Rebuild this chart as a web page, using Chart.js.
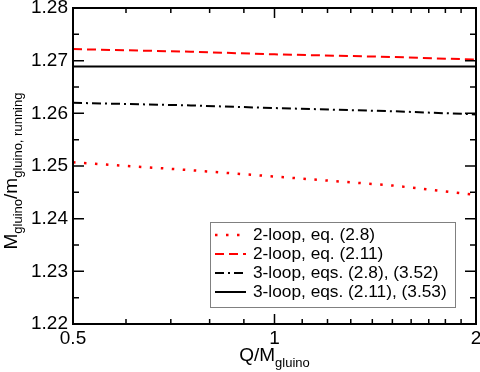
<!DOCTYPE html>
<html>
<head>
<meta charset="utf-8">
<script src="https://cdn.jsdelivr.net/npm/chart.js@4"></script>
<style>
  html, body { margin: 0; padding: 0; background: #fff; }
</style>
</head>
<body>
<canvas id="chart" width="480" height="372"></canvas>
<script>
// values
const qValues = [0.5, 0.75, 1, 1.5, 2];
const twoLoop28 = [1.2507, 1.2492, 1.2480, 1.2463, 1.2445];
const twoLoop211 = [1.2722, 1.2717, 1.2712, 1.2707, 1.2702];
const threeLoop28 = [1.2620, 1.2615, 1.2610, 1.2604, 1.2598];
const threeLoop211 = [1.2689, 1.2689, 1.2689, 1.2689, 1.2689];
const seriesNames = ['2-loop, eq. (2.8)', '2-loop, eq. (2.11)', '3-loop, eqs. (2.8), (3.52)', '3-loop, eqs. (2.11), (3.53)'];

const xMajor = [0.5, 1, 2];
const xMinor = [0.6, 0.7, 0.8, 0.9, 1.1, 1.2, 1.3, 1.4, 1.5, 1.6, 1.7, 1.8, 1.9];
const yMajor = [1.22, 1.23, 1.24, 1.25, 1.26, 1.27, 1.28];
const yMinor = [1.225, 1.235, 1.245, 1.255, 1.265, 1.275];

const FONT = '"Liberation Sans", Arial, sans-serif';

function toPoints(ys) {
    return qValues.map((q, i) => ({ x: q, y: ys[i] }));
}

const datasets = [
    { label: seriesNames[0], data: toPoints(twoLoop28), borderColor: '#ff0000', borderWidth: 2.5, borderDash: [2.5, 8.5] },
    { label: seriesNames[1], data: toPoints(twoLoop211), borderColor: '#ff0000', borderWidth: 2, borderDash: [9, 5] },
    { label: seriesNames[2], data: toPoints(threeLoop28), borderColor: '#000000', borderWidth: 2, borderDash: [9, 4, 2, 4] },
    { label: seriesNames[3], data: toPoints(threeLoop211), borderColor: '#000000', borderWidth: 2, borderDash: [] },
];
datasets.forEach(d => {
    d.pointRadius = 0;
    d.fill = false;
    d.tension = 0;
    d.borderCapStyle = 'butt';
});

// frame, inward ticks, axis titles and legend box
const decorations = {
    id: 'decorations',
    afterDraw(chart) {
        const ctx = chart.ctx;
        const a = chart.chartArea;
        const xs = chart.scales.x;
        const ys = chart.scales.y;
        ctx.save();

        ctx.strokeStyle = '#000';
        ctx.lineWidth = 1.5;
        ctx.beginPath();
        const tick = (v, len, horiz) => {
            if (horiz) {
                const p = xs.getPixelForValue(v);
                ctx.moveTo(p, a.bottom); ctx.lineTo(p, a.bottom - len);
                ctx.moveTo(p, a.top); ctx.lineTo(p, a.top + len);
            } else {
                const p = ys.getPixelForValue(v);
                ctx.moveTo(a.left, p); ctx.lineTo(a.left + len, p);
                ctx.moveTo(a.right, p); ctx.lineTo(a.right - len, p);
            }
        };
        xMajor.forEach(v => tick(v, 10, true));
        xMinor.forEach(v => tick(v, 5, true));
        yMajor.forEach(v => tick(v, 11, false));
        yMinor.forEach(v => tick(v, 6, false));
        ctx.stroke();

        ctx.lineWidth = 2;
        ctx.strokeRect(a.left, a.top, a.right - a.left, a.bottom - a.top);

        // x title
        ctx.fillStyle = '#000';
        ctx.textBaseline = 'alphabetic';
        ctx.font = '19px ' + FONT;
        const xMain = 'Q/M';
        const w1 = ctx.measureText(xMain).width;
        ctx.font = '13px ' + FONT;
        const w2 = ctx.measureText('gluino').width;
        let x0 = (a.left + a.right) / 2 - (w1 + w2) / 2;
        ctx.font = '19px ' + FONT;
        ctx.fillText(xMain, x0, 361);
        ctx.font = '13px ' + FONT;
        ctx.fillText('gluino', x0 + w1, 367);

        // y title
        const parts = [['M', 19, 0], ['gluino', 13, 5], ['/m', 19, 0], ['gluino, running', 13, 5]];
        let total = 0;
        parts.forEach(p => { ctx.font = p[1] + 'px ' + FONT; total += ctx.measureText(p[0]).width; });
        ctx.translate(17, 171);
        ctx.rotate(-Math.PI / 2);
        let cx = -total / 2;
        parts.forEach(p => {
            ctx.font = p[1] + 'px ' + FONT;
            ctx.fillText(p[0], cx, p[2]);
            cx += ctx.measureText(p[0]).width;
        });
        ctx.setTransform(1, 0, 0, 1, 0, 0);

        // legend
        ctx.fillStyle = '#fff';
        ctx.fillRect(210.5, 222.5, 245, 85);
        ctx.strokeStyle = '#808080';
        ctx.lineWidth = 1;
        ctx.strokeRect(210.5, 222.5, 245, 85);
        ctx.font = '17.3px ' + FONT;
        ctx.textBaseline = 'middle';
        chart.data.datasets.forEach((d, i) => {
            const y = 235 + i * 19;
            ctx.strokeStyle = d.borderColor;
            ctx.lineWidth = d.borderWidth;
            ctx.setLineDash(d.borderDash);
            ctx.beginPath();
            ctx.moveTo(215, y);
            ctx.lineTo(246, y);
            ctx.stroke();
            ctx.setLineDash([]);
            ctx.fillStyle = '#000';
            ctx.fillText(d.label, 253, y);
        });
        ctx.restore();
    }
};

const ctx = document.getElementById('chart').getContext('2d');
const chart = new Chart(ctx, {
    type: 'line',
    data: { datasets: datasets },
    options: {
        responsive: false,
        animation: false,
        devicePixelRatio: 1,
        layout: { padding: { top: 8, right: 4, left: 0, bottom: 0 } },
        plugins: { legend: { display: false }, tooltip: { enabled: false } },
        scales: {
            x: {
                type: 'logarithmic',
                min: 0.5,
                max: 2,
                afterBuildTicks: s => { s.ticks = xMajor.concat(xMinor).sort((p, q) => p - q).map(v => ({ value: v })); },
                afterFit: s => { s.height = 48; s.paddingLeft = 0; s.paddingRight = 0; },
                grid: { display: false, drawTicks: false },
                border: { display: false },
                ticks: {
                    autoSkip: false,
                    maxRotation: 0,
                    padding: 3,
                    color: '#000',
                    font: { family: FONT, size: 19 },
                    callback: v => xMajor.includes(v) ? String(v) : '',
                },
            },
            y: {
                min: 1.22,
                max: 1.28,
                afterBuildTicks: s => { s.ticks = yMajor.map(v => ({ value: v })); },
                afterFit: s => { s.width = 73; s.paddingTop = 0; s.paddingBottom = 0; },
                grid: { display: false, drawTicks: false },
                border: { display: false },
                ticks: {
                    padding: 5,
                    color: '#000',
                    font: { family: FONT, size: 19 },
                    callback: v => v.toFixed(2),
                },
            },
        },
    },
    plugins: [decorations],
});
</script>
</body>
</html>
